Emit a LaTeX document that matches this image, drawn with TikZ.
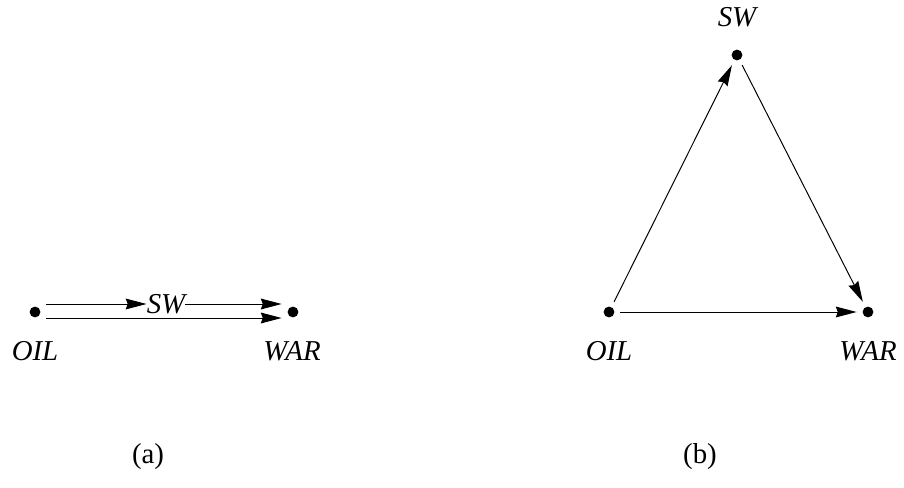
\documentclass[tikz,border=0pt]{standalone}
\usepackage{fontspec}
\setmainfont{Liberation Serif}
\usepackage{tikz}
\usetikzlibrary{arrows.meta, positioning}

\begin{document}
\begin{tikzpicture}[
  dot/.style={circle, fill=black, minimum size=0.27cm, inner sep=0pt, outer sep=0.15cm},
  lbl/.style={font=\fontsize{20.5}{24}\selectfont\itshape, inner sep=1pt},
  captxt/.style={font=\fontsize{20.5}{24}\selectfont},
  arrow/.style={-{Stealth[length=0.52cm, width=0.27cm, inset=0.05cm]}, line width=0.7pt}
]
\useasboundingbox (0, 0) rectangle (22.6, 12.175);

% (a): two parallel paths
\node[dot] (oilA) at (0.875, 4.375) {};
\node[dot] (warA) at (7.325, 4.375) {};
\node[lbl] (oilAl) at (0.875, 3.4) {OIL};
\node[lbl] (warAl) at (7.3, 3.4) {WAR};
\node[lbl, inner sep=0pt] (swA) at (4.15, 4.575) {SW};
\draw[arrow] ([yshift=0.2cm]oilA.east) -- (swA.west);
\draw[arrow] (swA.east) -- ([yshift=0.2cm]warA.west);
\draw[arrow] ([yshift=-0.15cm]oilA.east) -- ([yshift=-0.15cm]warA.west);
\node[captxt] (capA) at (3.7, 0.75) {(a)};

% (b): triangle
\node[dot] (oilB) at (15.225, 4.375) {};
\node[dot] (warB) at (21.7, 4.375) {};
\node[dot] (swB) at (18.425, 10.8) {};
\node[lbl] (oilBl) at (15.225, 3.4) {OIL};
\node[lbl] (warBl) at (21.7, 3.4) {WAR};
\node[lbl] (swBl) at (18.425, 11.75) {SW};
\draw[arrow] (oilB) -- (swB);
\draw[arrow] (swB) -- (warB);
\draw[arrow] (oilB) -- (warB);
\node[captxt] (capB) at (17.5, 0.75) {(b)};

\end{tikzpicture}
\end{document}
